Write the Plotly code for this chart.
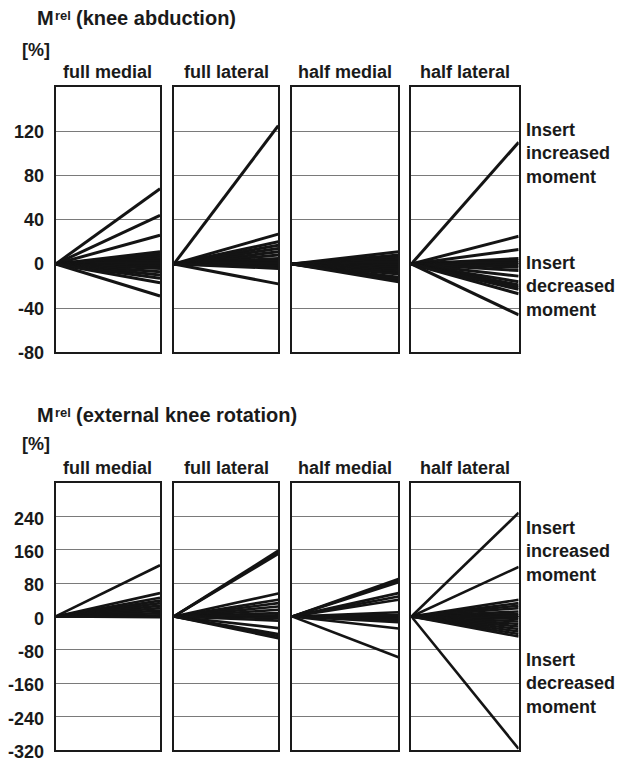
import plotly.graph_objects as go

# ---------------- data ----------------
panel_names = ["full medial", "full lateral", "half medial", "half lateral"]

# M_rel knee abduction [%] (end values of lines starting at 0)
abd_full_medial = [68, 44, 26, 11, 9, 7, 5, 3, 1, 0, -2, -4, -7, -10, -13, -17, -29]
abd_full_lateral = [125, 27, 20, 17, 14, 11, 8, 5, 3, 1, 0, -2, -4, -18]
abd_half_medial = [11, 8, 6, 4, 2, 0, -1, -3, -5, -7, -9, -12, -14, -16]
abd_half_lateral = [110, 25, 13, 5, 3, 1, -1, -3, -6, -11, -16, -19, -21, -23, -27, -46]

# M_rel external knee rotation [%]
rot_full_medial = [123, 56, 45, 38, 32, 26, 20, 14, 8, 3, 0, -2]
rot_full_lateral = [158, 154, 150, 55, 40, 32, 24, 16, 8, 3, 0, -4, -10, -28, -42, -47, -52]
rot_half_medial = [90, 86, 82, 56, 48, 40, 10, 4, 0, -3, -6, -10, -14, -29, -98]
rot_half_lateral = [249, 119, 40, 32, 26, 20, 12, 6, 2, -2, -6, -12, -18, -24, -30, -36, -42, -48, -318]

abd_ticks = [-80, -40, 0, 40, 80, 120]
abd_ticktext = ["-80", "-40", "0", "40", "80", "120"]
abd_range = [-80, 160]
rot_ticks = [-320, -240, -160, -80, 0, 80, 160, 240]
rot_ticktext = ["-320", "-240", "-160", "-80", "0", "80", "160", "240"]
rot_range = [-320, 320]

title_main = "M"
title_sup = "rel"
row_title_rest = ["(knee abduction)", "(external knee rotation)"]
unit_label = "[%]"
right_labels = ["Insert<br>increased<br>moment", "Insert<br>decreased<br>moment"]

rows = [
    dict(data=[abd_full_medial, abd_full_lateral, abd_half_medial, abd_half_lateral],
         ticks=abd_ticks, ticktext=abd_ticktext, rng=abd_range, lw=3.0, shift=0),
    dict(data=[rot_full_medial, rot_full_lateral, rot_half_medial, rot_half_lateral],
         ticks=rot_ticks, ticktext=rot_ticktext, rng=rot_range, lw=2.6, shift=2),
]

# ---------------- layout geometry (target pixels) ----------------
OFF = 8                      # default page body margin
SY = 0.986                   # observed vertical scale of the capture
W, H = 627 - 2 * OFF, 756
FONT = "Liberation Sans, Arial, sans-serif"
INK = "#1a1a1a"
col_px = [(52, 157), (171, 276), (290, 397), (410, 518)]
row_px = [(87, 353), (484, 751)]
title_y = [17.5, 415.5]
unit_y = [50, 445]
panel_title_y = [72, 469]
right_label_y = [(154, 287), (552, 685)]


def px_x(p):
    return min(1.0, max(0.0, (p - OFF) / W))


def px_y(p):
    return min(1.0, max(0.0, 1 - (p / SY - OFF) / H))


def text_ann(text, x, y, size, xanchor="left", align="left"):
    return dict(
        text=text, xref="paper", yref="paper", x=px_x(x), y=px_y(y),
        xanchor=xanchor, yanchor="middle", align=align, showarrow=False,
        font=dict(family=FONT, size=size, weight=700, color=INK),
    )


fig = go.Figure()
layout = dict(
    width=W, height=H, margin=dict(l=0, r=0, t=0, b=0),
    paper_bgcolor="white", plot_bgcolor="white", showlegend=False,
    font=dict(family=FONT, size=18, color=INK),
)
annotations = []

k = 0
for r, row in enumerate(rows):
    y0, y1 = row_px[r]
    for c, vals in enumerate(row["data"]):
        k += 1
        sx = "" if k == 1 else str(k)
        x0, x1 = col_px[c]
        xs, ys = [], []
        for v in vals:
            xs += [0, 1, None]
            ys += [0, v, None]
        fig.add_trace(go.Scatter(
            x=xs, y=ys, mode="lines", xaxis="x" + sx, yaxis="y" + sx,
            line=dict(color="#141414", width=row["lw"]), hoverinfo="skip",
        ))
        layout["xaxis" + sx] = dict(
            domain=[px_x(x0), px_x(x1)], range=[0, 1], anchor="y" + sx,
            showgrid=False, zeroline=False, showticklabels=False, ticks="",
            showline=True, mirror=True, linecolor=INK, linewidth=2,
        )
        layout["yaxis" + sx] = dict(
            domain=[px_y(y1), px_y(y0)], range=row["rng"], anchor="x" + sx,
            tickvals=row["ticks"], ticktext=row["ticktext"],
            showgrid=True, gridcolor="#7a7a7a", gridwidth=1.3,
            zeroline=False, ticks="", showticklabels=(c == 0),
            tickfont=dict(family=FONT, size=18, weight=700, color=INK),
            ticklabelstandoff=6, ticklabeloverflow="allow",
            ticklabelshift=row["shift"],
            showline=True, mirror=True, linecolor=INK, linewidth=2,
        )
        annotations.append(text_ann(panel_names[c], (x0 + x1) / 2, panel_title_y[r], 18,
                                    xanchor="center", align="center"))
    ty = title_y[r]
    annotations.append(text_ann(title_main, 31, ty, 20))
    annotations.append(text_ann(title_sup, 49, ty - 2.5, 13))
    annotations.append(text_ann(row_title_rest[r], 70, ty, 20))
    annotations.append(text_ann(unit_label, 16, unit_y[r], 18))
    for j, lab in enumerate(right_labels):
        annotations.append(text_ann(lab, 523, right_label_y[r][j], 18))

layout["annotations"] = annotations
fig.update_layout(**layout)
fig.write_html("out.html")
